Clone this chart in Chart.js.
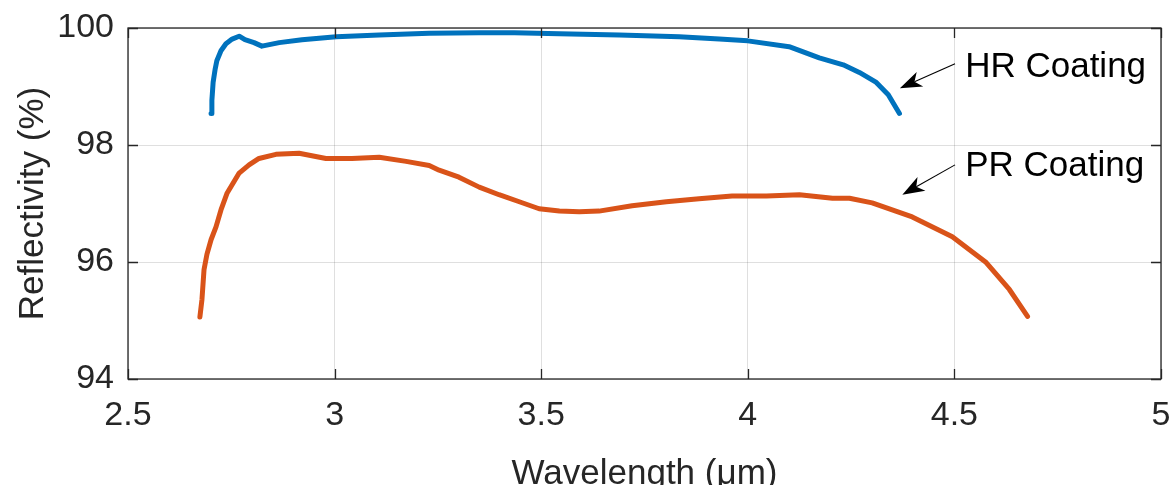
<!DOCTYPE html>
<html>
<head>
<meta charset="utf-8">
<script src="https://cdn.jsdelivr.net/npm/chart.js@4.4.1/dist/chart.umd.min.js"></script>
<style>
  html, body { margin: 0; padding: 0; background: #ffffff; }
  #wrap { width: 1173px; height: 485px; position: relative; }
</style>
</head>
<body>
<div id="wrap"><canvas id="c" width="1173" height="485"></canvas></div>
<script>
// ---- data ----
const hrX = [2.701, 2.703, 2.706, 2.711, 2.715, 2.725, 2.737, 2.752, 2.769, 2.783, 2.805, 2.824, 2.866, 2.921, 3.004, 3.108, 3.229, 3.350, 3.435, 3.544, 3.689, 3.834, 3.931, 4.000, 4.100, 4.173, 4.231, 4.270, 4.311, 4.340, 4.367];
const hrY = [98.54, 98.76, 99.07, 99.30, 99.44, 99.61, 99.73, 99.81, 99.86, 99.80, 99.75, 99.69, 99.75, 99.80, 99.85, 99.88, 99.91, 99.92, 99.92, 99.90, 99.88, 99.85, 99.81, 99.78, 99.68, 99.49, 99.37, 99.24, 99.07, 98.86, 98.54];

const prX = [2.674, 2.679, 2.684, 2.691, 2.701, 2.713, 2.725, 2.740, 2.769, 2.793, 2.817, 2.858, 2.914, 2.979, 3.042, 3.108, 3.173, 3.229, 3.253, 3.301, 3.350, 3.398, 3.447, 3.495, 3.544, 3.592, 3.640, 3.720, 3.803, 3.882, 3.962, 4.045, 4.125, 4.205, 4.246, 4.301, 4.398, 4.495, 4.577, 4.633, 4.677];
const prY = [95.06, 95.36, 95.87, 96.13, 96.38, 96.60, 96.89, 97.18, 97.52, 97.66, 97.77, 97.84, 97.86, 97.77, 97.77, 97.79, 97.72, 97.65, 97.57, 97.45, 97.28, 97.15, 97.03, 96.91, 96.87, 96.86, 96.87, 96.96, 97.03, 97.08, 97.13, 97.13, 97.15, 97.09, 97.09, 97.01, 96.77, 96.43, 95.99, 95.53, 95.07];

const xTicks = [2.5, 3, 3.5, 4, 4.5, 5];
const yTicks = [94, 96, 98, 100];

const xLabel = 'Wavelength (\u03BCm)';
const yLabel = 'Reflectivity (%)';
const seriesNames = ['HR Coating', 'PR Coating'];
// arrow annotations: [tailX, tailY, tipX, tipY, textX, textY]
const hrNote = [4.5015, 99.39, 4.368, 98.97, 4.526, 99.33];
const prNote = [4.5015, 97.66, 4.374, 97.15, 4.526, 97.64];

// ---- build ----
const hrData = hrX.map((x, i) => ({ x: x, y: hrY[i] }));
const prData = prX.map((x, i) => ({ x: x, y: prY[i] }));

const FONT = '"Liberation Sans", Arial, Helvetica, sans-serif';
const AXIS = '#262626';

const boxPlugin = {
  id: 'box',
  afterDraw(chart) {
    const ctx = chart.ctx;
    const a = chart.chartArea;
    const xs = chart.scales.x, ys = chart.scales.y;
    ctx.save();
    ctx.strokeStyle = AXIS;
    ctx.lineWidth = 1.3;
    ctx.strokeRect(a.left, a.top, a.right - a.left, a.bottom - a.top);
    const tl = 10;
    ctx.beginPath();
    xTicks.forEach(v => {
      const px = Math.round(xs.getPixelForValue(v)) + 0.5;
      ctx.moveTo(px, a.bottom); ctx.lineTo(px, a.bottom - tl);
      ctx.moveTo(px, a.top); ctx.lineTo(px, a.top + tl);
    });
    yTicks.forEach(v => {
      const py = Math.round(ys.getPixelForValue(v)) + 0.5;
      ctx.moveTo(a.left, py); ctx.lineTo(a.left + tl, py);
      ctx.moveTo(a.right, py); ctx.lineTo(a.right - tl, py);
    });
    ctx.stroke();

    // axis titles
    ctx.fillStyle = AXIS;
    ctx.font = '35px ' + FONT;
    ctx.textAlign = 'center';
    ctx.textBaseline = 'alphabetic';
    ctx.fillText(xLabel, (a.left + a.right) / 2, 484);
    ctx.save();
    ctx.translate(43, (a.top + a.bottom) / 2);
    ctx.rotate(-Math.PI / 2);
    ctx.fillText(yLabel, 0, 0);
    ctx.restore();

    // annotations
    const drawNote = (n, label) => {
      const x0 = xs.getPixelForValue(n[0]), y0 = ys.getPixelForValue(n[1]);
      const x1 = xs.getPixelForValue(n[2]), y1 = ys.getPixelForValue(n[3]);
      const ang = Math.atan2(y1 - y0, x1 - x0);
      const L = 22, W = 8, back = 6;
      ctx.strokeStyle = '#000';
      ctx.fillStyle = '#000';
      ctx.lineWidth = 1.1;
      ctx.beginPath();
      ctx.moveTo(x0, y0);
      ctx.lineTo(x1 - Math.cos(ang) * (L - back), y1 - Math.sin(ang) * (L - back));
      ctx.stroke();
      const cx = Math.cos(ang), sy = Math.sin(ang);
      const bx = x1 - cx * L, by = y1 - sy * L;
      const nx = -sy, ny = cx;
      ctx.beginPath();
      ctx.moveTo(x1, y1);
      ctx.lineTo(bx + nx * W, by + ny * W);
      ctx.lineTo(x1 - cx * (L - back), y1 - sy * (L - back));
      ctx.lineTo(bx - nx * W, by - ny * W);
      ctx.closePath();
      ctx.fill();
      ctx.font = '35px ' + FONT;
      ctx.textAlign = 'left';
      ctx.textBaseline = 'middle';
      ctx.fillText(label, xs.getPixelForValue(n[4]), ys.getPixelForValue(n[5]));
    };
    drawNote(hrNote, seriesNames[0]);
    drawNote(prNote, seriesNames[1]);
    ctx.restore();
  }
};

new Chart(document.getElementById('c'), {
  type: 'scatter',
  data: {
    datasets: [
      { label: seriesNames[0], data: hrData, showLine: true, borderColor: '#0072BD', backgroundColor: '#0072BD', borderWidth: 5, pointRadius: 0, tension: 0, borderCapStyle: 'round', borderJoinStyle: 'round' },
      { label: seriesNames[1], data: prData, showLine: true, borderColor: '#D95319', backgroundColor: '#D95319', borderWidth: 5, pointRadius: 0, tension: 0, borderCapStyle: 'round', borderJoinStyle: 'round' }
    ]
  },
  options: {
    responsive: false,
    animation: false,
    devicePixelRatio: 1,
    layout: { padding: { top: 28, right: 12, left: 0, bottom: 0 } },
    plugins: { legend: { display: false }, tooltip: { enabled: false } },
    scales: {
      x: {
        type: 'linear', min: 2.5, max: 5,
        afterBuildTicks: s => { s.ticks = xTicks.map(v => ({ value: v })); },
        afterFit: s => { s.height = 106; s.paddingLeft = 0; s.paddingRight = 0; s.paddingTop = 0; s.paddingBottom = 0; },
        grid: { color: 'rgba(38,38,38,0.15)', drawTicks: false, lineWidth: 1 },
        border: { display: false },
        ticks: { color: AXIS, font: { family: FONT, size: 34 }, padding: 16, maxRotation: 0, autoSkip: false, callback: v => String(v) }
      },
      y: {
        type: 'linear', min: 94, max: 100,
        afterBuildTicks: s => { s.ticks = yTicks.map(v => ({ value: v })); },
        afterFit: s => { s.width = 128; s.paddingLeft = 0; s.paddingRight = 0; s.paddingTop = 0; s.paddingBottom = 0; },
        grid: { color: 'rgba(38,38,38,0.15)', drawTicks: false, lineWidth: 1 },
        border: { display: false },
        ticks: { color: AXIS, font: { family: FONT, size: 34 }, padding: 14, autoSkip: false, callback: v => String(v) }
      }
    }
  },
  plugins: [boxPlugin]
});
</script>
</body>
</html>
